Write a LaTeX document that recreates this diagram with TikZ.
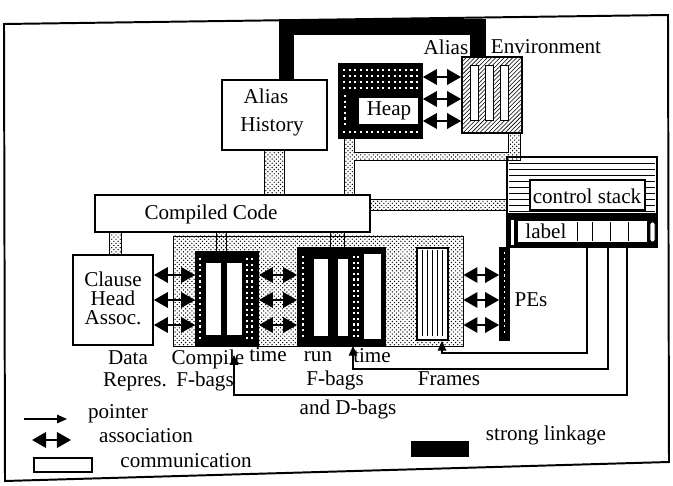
\documentclass[tikz,border=0pt]{standalone}
\usepackage{fontspec}
\setmainfont{Liberation Serif}
\usetikzlibrary{positioning,calc,arrows.meta,fit,patterns}

\tikzset{
  box/.style={draw, line width=1.2pt, fill=white, inner sep=0pt},
  darkbox/.style={draw, line width=1.2pt, fill=black, inner sep=0pt},
  comm/.style={draw, line width=0.6pt, pattern=crosshatch dots},
  strong/.style={line width=11pt},
  assoc/.style={{Triangle[length=10pt,width=11pt]}-{Triangle[length=10pt,width=11pt]}, line width=1.5pt},
  ptr/.style={-{Triangle[length=7pt,width=6pt]}, line width=0.8pt},
  lbl/.style={font=\fontsize{15}{13.5}\selectfont, inner sep=0pt},
  speck/.style={white, line width=0.8pt, dash pattern=on 1.5pt off 2.5pt},
  slot/.style={draw=black, fill=white, line width=0.6pt},
}

\begin{document}
\begin{tikzpicture}[x=0.025cm, y=-0.025cm]
\useasboundingbox (0,0) rectangle (673,486);
% outer frame
\draw[line width=1.4pt] (4,24) -- (668,15) -- (669,462) -- (5,481) -- cycle;

% stippled area round the bags
\node[fit={(173,236) (463,346)}, inner sep=0pt, draw, line width=0.6pt, pattern=crosshatch dots] (bags) {};

% alias history, heap, alias environment
\node[box, fit={(222,80) (327,150)}] (hist) {};
\node[lbl] (histA) at (266,96) {Alias};
\node[lbl] (histB) at (272,127) {History};
\node[darkbox, fit={(339,64) (422,138)}] (heap) {};
\foreach \y in {70,76,82,88,132}
    \draw[speck] (343,\y) -- (418,\y);
\draw[speck] (345,95) -- (345,128);
\node[box, fit={(358,97) (419,125)}] (heaplbl) {};
\node[lbl] (heaptxt) at (389,111) {Heap};
\node[box, fit={(462,57) (522,133)}, postaction={pattern=north east lines}] (env) {};
\foreach \x in {470,485,500}
    \draw[slot] (\x,65) rectangle ++(8,55);
\node[lbl] (envA) at (446,47) {Alias};
\node[lbl] (envB) at (546,47) {Environment};

% compiled code and clause head
\node[box, fit={(95,195) (370,232)}] (code) {};
\node[lbl] (codetxt) at (211,214) {Compiled Code};
\node[box, fit={(73,255) (153,345)}] (clause) {};
\node[lbl, align=center] (clausetxt) at (113,298) {Clause\\Head\\Assoc.};

% compile time and run time bags
\node[darkbox, fit={(196,252) (258,345)}] (cfb) {};
\foreach \x in {205,226}
    \draw[slot] (\x,262) rectangle ++(16,73);
\foreach \x in {200,247,252}
    \draw[speck] (\x,258) -- (\x,340);
\node[darkbox, fit={(298,248) (385,345)}] (rfb) {};
\foreach \x/\w in {313/15,337/11}
    \draw[slot] (\x,258) rectangle ++(\w,78);
\draw[slot] (363,253) rectangle (381,339);
\foreach \x in {303,354,358}
    \draw[speck] (\x,256) -- (\x,338);

% frames and PEs
\node[box, fit={(417,248) (448,340)}] (frames) {};
\foreach \x in {422,427,...,442}
    \draw[line width=0.6pt] (\x,250) -- (\x,336);
\node[darkbox, fit={(500,248) (509,340)}] (pes) {};
\draw[speck] (504.5,252) -- (504.5,336);
\node[lbl] (pestxt) at (531,300) {PEs};

% control stack
\node[box, fit={(507,157) (657,247)}] (cstack) {};
\foreach \y in {163,169,...,211}
    \draw[line width=0.5pt] (509,\y) -- (655,\y);
\fill (508,213) rectangle (656,246);
\node[box, fit={(530,180) (645,210)}] (cslbl) {};
\node[lbl] (cstxt) at (587,196) {control stack};
\node[box, fit={(517,220) (648,243)}] (lblrow) {};
\node[lbl, anchor=west] (lbltxt) at ($(lblrow.west)+(9,0)$) {label};
\foreach \x in {577,592,610,628}
    \draw[line width=0.6pt] (\x,222) -- (\x,241);
\draw[slot, rounded corners=1.5pt] (650,222) rectangle (655,242);
\draw[slot] (510,219) rectangle (514,245);

% strong linkage
\draw[strong] ($(hist.north)+(12,0)$) |- ($(env.north)+(-14,-29)$) -- ($(env.north)+(-14,0)$);

% communication
\path[comm] ($(hist.south)+(-10,0)$) rectangle ($(hist.south |- code.north)+(10,0)$);
\coordinate (ca) at ($(heap.south west)+(6,0)$);
\coordinate (cb) at (ca |- code.north);
\path[comm] (ca) -- (cb) -- ($(cb)+(10,0)$) -- ($(heap.south west)+(16,22)$)
    -- ($(env.south east)+(-2,27)$) -- ($(env.south east)+(-2,0)$)
    -- ($(env.south east)+(-14,0)$) -- ($(env.south east)+(-14,19)$)
    -- ($(heap.south west)+(16,14)$) -- ($(heap.south west)+(16,0)$) -- cycle;
\path[comm] ($(code.north east)+(0,5)$) rectangle ($(cstack.west |- code.north)+(0,16)$);
\path[comm] ($(clause.north west)+(37,0)$) rectangle ($(clause.north west |- code.south)+(49,0)$);
\path[comm] ($(cfb.north west)+(21,0)$) rectangle ($(cfb.north west |- code.south)+(31,0)$);
\path[comm] ($(rfb.north west)+(33,0)$) rectangle ($(rfb.north west |- code.south)+(47,0)$);

% associations
\foreach \y in {77,99,121} {
    \path (0,\y) coordinate (r);
    \draw[assoc] (heap.east |- r) -- (env.west |- r);
}
\foreach \y in {275,300,325} {
    \path (0,\y) coordinate (r);
    \draw[assoc] (clause.east |- r) -- (cfb.west |- r);
    \draw[assoc] (cfb.east |- r) -- (rfb.west |- r);
    \draw[assoc] (bags.east |- r) -- (pes.west |- r);
}

% pointers from the label row
\coordinate (t1) at (587,247); \coordinate (b1) at (442,353);
\draw[ptr] (t1) |- (b1) -- (b1 |- frames.south);
\coordinate (t2) at (608,247); \coordinate (b2) at (353,369);
\draw[ptr] (t2) |- (b2) -- (b2 |- rfb.south);
\coordinate (t3) at (627,247); \coordinate (b3) at (234,395);
\draw[ptr] (t3) |- (b3) -- ($(b3)+(0,-40)$);

% labels
\node[lbl] (data) at (128,358) {Data};
\node[lbl] (repres) at (135,382) {Repres.};
\node[lbl] (compile) at (208,359) {Compile};
\node[lbl] (cbags) at (205,381) {F-bags};
\node[lbl] (ctime) at (268,355) {time};
\node[lbl] (run) at (318,357) {run};
\node[lbl] (rtime) at (372,356) {time};
\node[lbl] (rbags) at (335,380) {F-bags};
\node[lbl] (frtxt) at (449,379) {Frames};
\node[lbl] (dbags) at (348,409) {and D-bags};

% legend
\coordinate (lp1) at (24,419); \coordinate (lp2) at (67,419);
\draw[ptr] (lp1) -- (lp2);
\node[lbl] (lptxt) at (118,414) {pointer};
\coordinate (la1) at (32,440); \coordinate (la2) at (71,440);
\draw[assoc] (la1) -- (la2);
\node[lbl] (latxt) at (146,436) {association};
\node[box, line width=0.8pt, fit={(34,458) (92,472)}] (lcomm) {};
\node[lbl] (lctxt) at (186,461) {communication};
\node[darkbox, fit={(412,442) (468,456)}] (lstrong) {};
\node[lbl] (lstxt) at (546,435) {strong linkage};
\end{tikzpicture}
\end{document}
